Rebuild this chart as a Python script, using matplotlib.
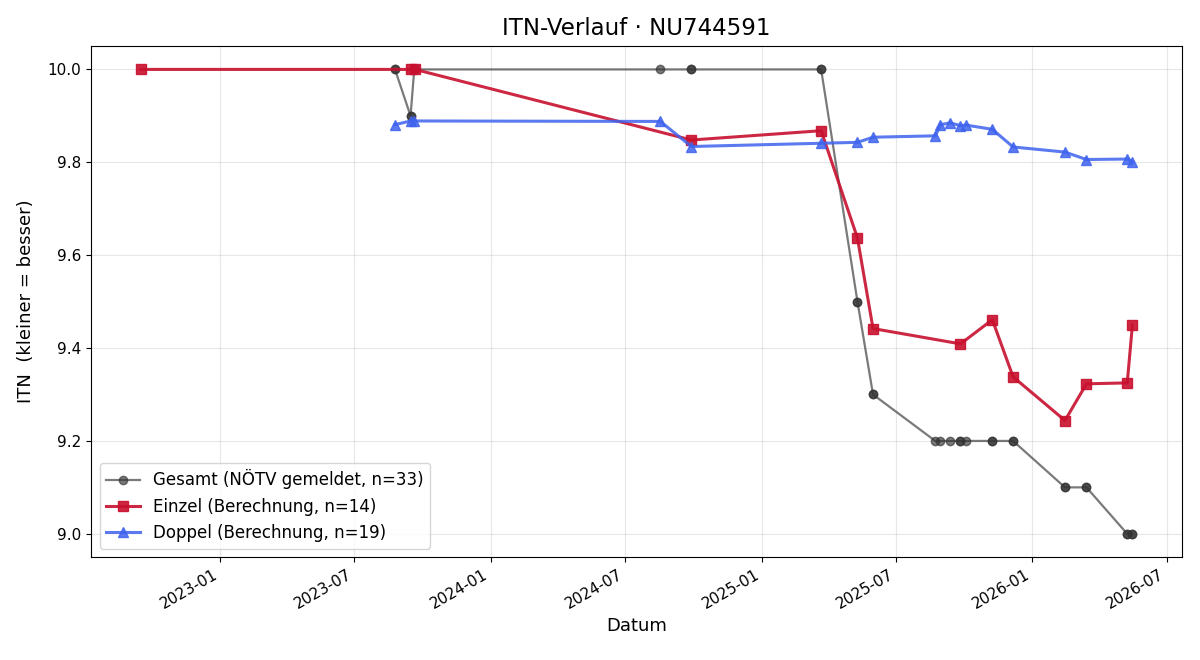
import pandas as pd
import matplotlib
matplotlib.use("Agg")
import matplotlib.pyplot as plt
import matplotlib.dates as mdates

# Gesamt (NÖTV gemeldet) - 33 Meldungen, teils am selben Tag
gesamt_dates = ["2023-08-25", "2023-08-25", "2023-09-15", "2023-09-15", "2023-09-20",
                "2023-09-21", "2024-08-17", "2024-09-28", "2024-09-28", "2025-03-22",
                "2025-03-22", "2025-05-10", "2025-05-10", "2025-05-31", "2025-05-31",
                "2025-08-23", "2025-08-30", "2025-09-12", "2025-09-26", "2025-09-26",
                "2025-10-04", "2025-11-08", "2025-11-08", "2025-12-06", "2025-12-06",
                "2026-02-14", "2026-02-14", "2026-03-15", "2026-03-15", "2026-05-09",
                "2026-05-09", "2026-05-16", "2026-05-16"]
gesamt_itn = [10.0, 10.0, 9.9, 9.9, 10.0,
              10.0, 10.0, 10.0, 10.0, 10.0,
              10.0, 9.5, 9.5, 9.3, 9.3,
              9.2, 9.2, 9.2, 9.2, 9.2,
              9.2, 9.2, 9.2, 9.2, 9.2,
              9.1, 9.1, 9.1, 9.1, 9.0,
              9.0, 9.0, 9.0]

einzel_dates = ["2022-09-16", "2023-09-15", "2023-09-21", "2024-09-28", "2025-03-22",
                "2025-05-10", "2025-05-31", "2025-09-26", "2025-11-08", "2025-12-06",
                "2026-02-14", "2026-03-15", "2026-05-09", "2026-05-16"]
einzel_itn = [10.0, 10.0, 10.0, 9.848, 9.868,
              9.637, 9.442, 9.409, 9.461, 9.338,
              9.244, 9.323, 9.325, 9.450]

doppel_dates = ["2023-08-25", "2023-09-15", "2023-09-20", "2024-08-17", "2024-09-28",
                "2025-03-22", "2025-05-10", "2025-05-31", "2025-08-23", "2025-08-30",
                "2025-09-12", "2025-09-26", "2025-10-04", "2025-11-08", "2025-12-06",
                "2026-02-14", "2026-03-15", "2026-05-09", "2026-05-16"]
doppel_itn = [9.881, 9.889, 9.889, 9.888, 9.834,
              9.841, 9.843, 9.854, 9.857, 9.881,
              9.885, 9.879, 9.880, 9.871, 9.833,
              9.822, 9.806, 9.807, 9.801]

fig, ax = plt.subplots(figsize=(12, 6.6), dpi=100)

ax.plot(pd.to_datetime(gesamt_dates), gesamt_itn, marker="o", markersize=6,
        color="#333333", alpha=0.65, linewidth=1.6,
        label=f"Gesamt (NÖTV gemeldet, n={len(gesamt_itn)})")
ax.plot(pd.to_datetime(einzel_dates), einzel_itn, marker="s", markersize=7,
        color="#c8102e", alpha=0.9, linewidth=2.2,
        label=f"Einzel (Berechnung, n={len(einzel_itn)})")
ax.plot(pd.to_datetime(doppel_dates), doppel_itn, marker="^", markersize=7,
        color="#3f63ee", alpha=0.85, linewidth=2.2,
        label=f"Doppel (Berechnung, n={len(doppel_itn)})")

ax.set_title("ITN-Verlauf · NU744591", fontsize=16.5, pad=8)
ax.set_xlabel("Datum", fontsize=13)
ax.set_ylabel("ITN  (kleiner = besser)", fontsize=13, labelpad=9)
ax.xaxis.set_major_locator(mdates.MonthLocator(bymonth=[1, 7]))
ax.xaxis.set_major_formatter(mdates.DateFormatter("%Y-%m"))
ax.tick_params(labelsize=11)
ax.grid(True, alpha=0.3)
ax.legend(loc="lower left", fontsize=12)
fig.autofmt_xdate()

fig.subplots_adjust(left=0.076, right=0.985, top=0.930, bottom=0.156)
fig.savefig("out.png")
